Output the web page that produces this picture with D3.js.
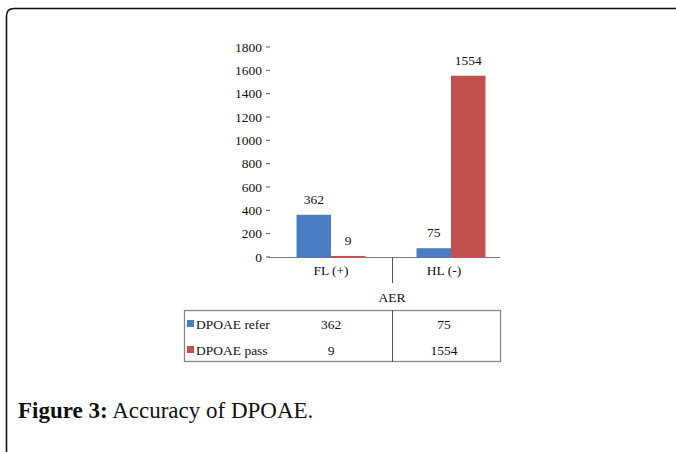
<!DOCTYPE html>
<html><head><meta charset="utf-8">
<script src="https://cdn.jsdelivr.net/npm/d3@7/dist/d3.min.js"></script>
<style>body{margin:0;background:#fff}svg{display:block}</style>
</head><body>
<script>
const categories = ["FL (+)", "HL (-)"];
const seriesNames = ["DPOAE refer", "DPOAE pass"];
const referValues = [362, 75];
const passValues = [9, 1554];
const yTicks = [0, 200, 400, 600, 800, 1000, 1200, 1400, 1600, 1800];
const axisTitle = "AER";
const colors = ["#4a7dc4", "#c4504d"];

const W = 676, H = 452;
const svg = d3.select("body").append("svg").attr("width", W).attr("height", H);
const serif = "'Liberation Serif', 'DejaVu Serif', serif";

// frame
svg.append("path")
  .attr("d", "M6.5,452 L6.5,16 Q6.5,8.5 14,8.5 L676,8.5")
  .attr("fill", "none").attr("stroke", "#111").attr("stroke-width", 1.6);

const series = [referValues, passValues];
const x0 = d3.scaleBand().domain(categories).range([271, 511]).paddingInner(0).paddingOuter(0);
const y = d3.scaleLinear().domain([0, 1800]).range([257, 47]);
const x1 = d3.scaleBand().domain([0, 1]).range([0, x0.bandwidth()]).paddingInner(0).paddingOuter(0.74);

// y axis
const yAxis = d3.axisLeft(y).tickValues(yTicks).tickSize(0).tickPadding(0);
const ya = svg.append("g").attr("transform", "translate(270,0)").call(yAxis);
ya.select(".domain").remove();
ya.selectAll(".tick text").remove();
yTicks.forEach(t => {
  svg.append("text").attr("x", 262).attr("y", y(t) + 4.5).attr("text-anchor", "end")
    .attr("font-family", serif).attr("font-size", 13.5).attr("fill", "#111").text(t);
  svg.append("line").attr("x1", 266).attr("x2", 270).attr("y1", y(t)).attr("y2", y(t))
    .attr("stroke", "#555").attr("stroke-width", 1);
});

// bars
categories.forEach((c, i) => {
  series.forEach((s, j) => {
    const v = s[i];
    const bx = x0(c) + x1(j);
    svg.append("rect").attr("x", bx).attr("y", y(v)).attr("width", x1.bandwidth())
      .attr("height", y(0) - y(v)).attr("fill", colors[j]);
    svg.append("text").attr("x", bx + x1.bandwidth() / 2).attr("y", y(v) - 11)
      .attr("text-anchor", "middle").attr("font-family", serif).attr("font-size", 13.5)
      .attr("fill", "#111").text(v);
  });
});

// x axis
svg.append("line").attr("x1", 268).attr("x2", 500).attr("y1", 257.5).attr("y2", 257.5)
  .attr("stroke", "#777").attr("stroke-width", 1);
svg.append("line").attr("x1", 392.5).attr("x2", 392.5).attr("y1", 257).attr("y2", 283)
  .attr("stroke", "#555").attr("stroke-width", 1);
const catX = [331, 444];
categories.forEach((c, i) => {
  svg.append("text").attr("x", catX[i]).attr("y", 275).attr("text-anchor", "middle")
    .attr("font-family", serif).attr("font-size", 13.5).attr("fill", "#111").text(c);
});
svg.append("text").attr("x", 392).attr("y", 302).attr("text-anchor", "middle")
  .attr("font-family", serif).attr("font-size", 13.5).attr("fill", "#111").text(axisTitle);

// data table
svg.append("rect").attr("x", 184.5).attr("y", 310.5).attr("width", 316).attr("height", 51)
  .attr("fill", "none").attr("stroke", "#888").attr("stroke-width", 1.3);
svg.append("line").attr("x1", 392.5).attr("x2", 392.5).attr("y1", 310).attr("y2", 362)
  .attr("stroke", "#555").attr("stroke-width", 1);
const rowY = [329, 355];
series.forEach((s, j) => {
  svg.append("rect").attr("x", 187).attr("y", rowY[j] - 9).attr("width", 7).attr("height", 7)
    .attr("fill", colors[j]);
  svg.append("text").attr("x", 196).attr("y", rowY[j]).attr("font-family", serif)
    .attr("font-size", 13.5).attr("fill", "#111").text(seriesNames[j]);
  categories.forEach((c, i) => {
    svg.append("text").attr("x", catX[i]).attr("y", rowY[j]).attr("text-anchor", "middle")
      .attr("font-family", serif).attr("font-size", 13.5).attr("fill", "#111").text(s[i]);
  });
});

// caption
const cap = svg.append("text").attr("x", 18).attr("y", 418)
  .attr("font-family", serif).attr("font-size", 23).attr("fill", "#111");
cap.append("tspan").attr("font-weight", "bold").text("Figure 3:");
cap.append("tspan").text(" Accuracy of DPOAE.");
</script>
</body></html>
